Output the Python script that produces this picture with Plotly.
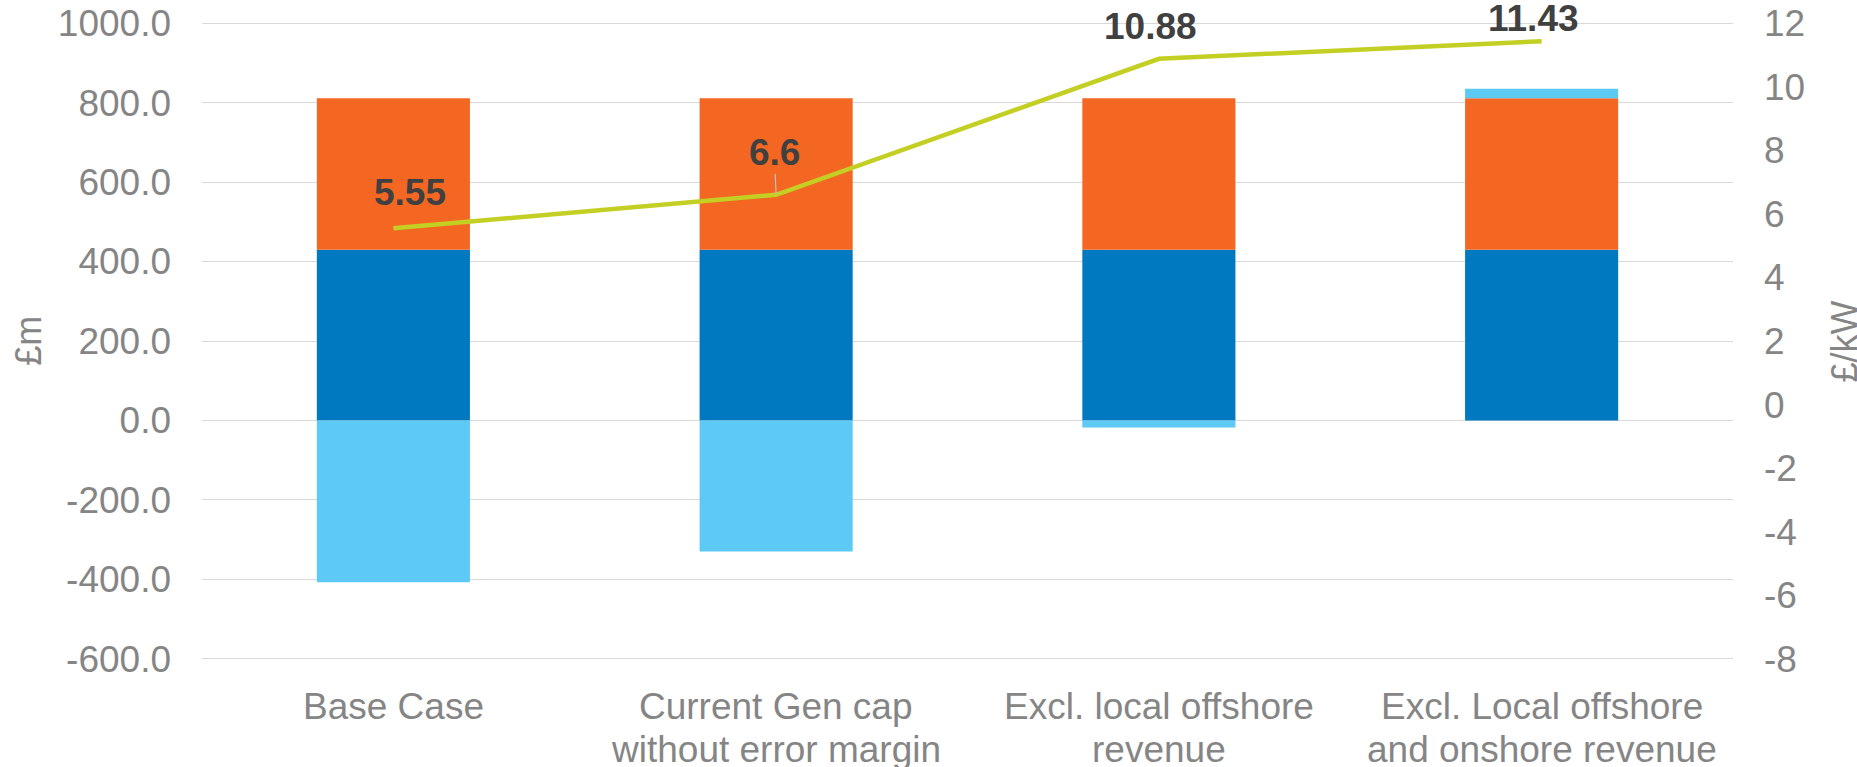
import plotly.graph_objects as go

# ---------------- data ----------------
categories = [
    "Base Case",
    "Current Gen cap without error margin",
    "Excl. local offshore revenue",
    "Excl. Local offshore and onshore revenue",
]
category_label_lines = [
    ["Base Case"],
    ["Current Gen cap", "without error margin"],
    ["Excl. local offshore", "revenue"],
    ["Excl. Local offshore", "and onshore revenue"],
]
blue_values = [430, 430, 430, 430]
orange_values = [381, 381, 381, 381]
lightblue_values = [-407, -330, -18, 24]
line_values = [5.55, 6.6, 10.88, 11.43]
line_labels = ["5.55", "6.6", "10.88", "11.43"]
left_ticks = [-600, -400, -200, 0, 200, 400, 600, 800, 1000]
left_tick_text = ["-600.0", "-400.0", "-200.0", "0.0", "200.0", "400.0", "600.0", "800.0", "1000.0"]
right_ticks = [-8, -6, -4, -2, 0, 2, 4, 6, 8, 10, 12]
right_tick_text = ["-8", "-6", "-4", "-2", "0", "2", "4", "6", "8", "10", "12"]

# ---------------- style ----------------
FONT = "Arial, Liberation Sans, sans-serif"
AXIS_GRAY = "#858585"
LABEL_DARK = "#404040"
C_BLUE = "#0079C1"
C_ORANGE = "#F36723"
C_LIGHT = "#5DCAF5"
C_LINE = "#C3CF22"
TICK_SIZE = 37

# pixel offsets of data labels relative to their points (x right, y up)
label_offsets = [(17, 36), (-2, 42), (-8, 32), (-8, 23)]

fig = go.Figure()
fig.add_trace(go.Bar(x=categories, y=blue_values, marker=dict(color=C_BLUE, line=dict(width=0)),
                     width=0.4, name="blue", showlegend=False))
fig.add_trace(go.Bar(x=categories, y=orange_values, marker=dict(color=C_ORANGE, line=dict(width=0)),
                     width=0.4, name="orange", showlegend=False))
fig.add_trace(go.Bar(x=categories, y=lightblue_values, marker=dict(color=C_LIGHT, line=dict(width=0)),
                     width=0.4, name="light", showlegend=False))
fig.add_trace(go.Scatter(x=categories, y=line_values, mode="lines", yaxis="y2",
                         line=dict(color=C_LINE, width=4.5), showlegend=False, name="£/kW"))

annotations = []
# data labels
for i, (cat, val, txt) in enumerate(zip(categories, line_values, line_labels)):
    dx, dy = label_offsets[i]
    if txt == "6.6":
        annotations.append(dict(
            x=cat, y=val, xref="x", yref="y2", text="<b>%s</b>" % txt,
            showarrow=True, ax=dx, ay=-dy, arrowhead=0, arrowwidth=1.2,
            arrowcolor="#BFBFBF", standoff=0, borderpad=0,
            font=dict(family=FONT, size=37, color=LABEL_DARK)))
    else:
        annotations.append(dict(
            x=cat, y=val, xref="x", yref="y2", text="<b>%s</b>" % txt,
            showarrow=False, xshift=dx, yshift=dy, borderpad=0,
            font=dict(family=FONT, size=37, color=LABEL_DARK)))

# category labels (two lines with tight spacing)
line_shifts = [-44.8, -87.5]
for cat, lines in zip(categories, category_label_lines):
    for j, ln in enumerate(lines):
        annotations.append(dict(
            x=cat, xref="x", y=0, yref="paper", text=ln, showarrow=False,
            yanchor="middle", xanchor="center", yshift=line_shifts[j], borderpad=0,
            font=dict(family=FONT, size=TICK_SIZE, color=AXIS_GRAY)))

# axis titles
annotations.append(dict(x=-0.1138, y=0.5, xref="paper", yref="paper", text="£m",
                        textangle=-90, showarrow=False, xanchor="center", yanchor="middle",
                        borderpad=0, font=dict(family=FONT, size=36, color=AXIS_GRAY)))
annotations.append(dict(x=1.0728, y=0.5, xref="paper", yref="paper", text="£/kW",
                        textangle=-90, showarrow=False, xanchor="center", yanchor="middle",
                        borderpad=0, font=dict(family=FONT, size=36, color=AXIS_GRAY)))

fig.update_layout(
    width=1857, height=767,
    margin=dict(l=202, r=124, t=20, b=105, autoexpand=False),
    paper_bgcolor="white", plot_bgcolor="white",
    barmode="relative", bargap=0.6,
    showlegend=False,
    font=dict(family=FONT, size=TICK_SIZE, color=AXIS_GRAY),
    xaxis=dict(type="category", showticklabels=False, showgrid=False, zeroline=False,
               showline=False, ticks=""),
    yaxis=dict(range=[-608, 1008], tickvals=left_ticks, ticktext=left_tick_text,
               showgrid=True, gridcolor="#D9D9D9", gridwidth=1.3, zeroline=False,
               showline=False, ticks="", ticklabelstandoff=30,
               tickfont=dict(family=FONT, size=TICK_SIZE, color=AXIS_GRAY), automargin=False),
    yaxis2=dict(range=[-8.1, 12.1], tickvals=right_ticks, ticktext=right_tick_text,
                overlaying="y", side="right", showgrid=False, zeroline=False,
                showline=False, ticks="", ticklabelstandoff=30,
                tickfont=dict(family=FONT, size=TICK_SIZE, color=AXIS_GRAY), automargin=False),
    annotations=annotations,
)

fig.write_html("out.html")
